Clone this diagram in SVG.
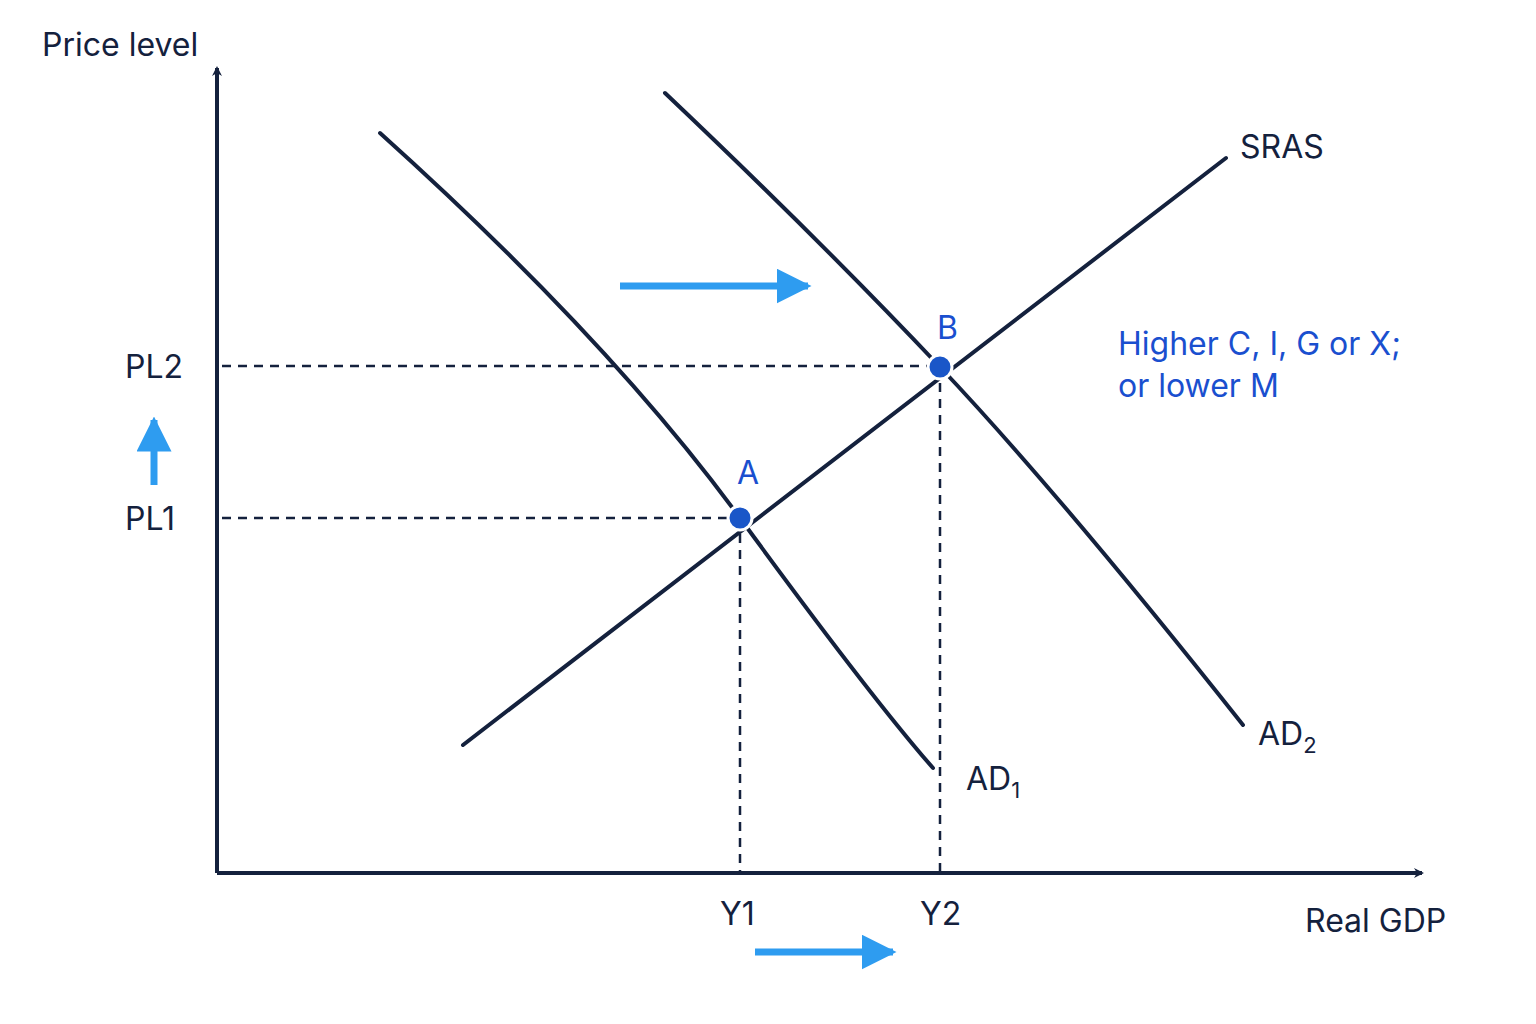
<svg xmlns="http://www.w3.org/2000/svg" width="1536" height="1024" viewBox="0 0 1536 1024">
<style>
.t{font-family:"Inter","Liberation Sans",sans-serif;fill:#14213d;font-size:32px}
.b{fill:#1a4fcf}
.c{fill:none;stroke:#14213d;stroke-width:4;stroke-linecap:round}
.d{stroke:#14213d;stroke-width:2.5;stroke-dasharray:9 7}
.s{stroke:#2e9cf0;stroke-width:7}
</style>
<defs>
<marker id="ax" markerWidth="10" markerHeight="10" refX="8" refY="5" orient="auto" markerUnits="userSpaceOnUse" viewBox="0 0 10 10"><path d="M0,0 L10,5 L0,10 L3,5 Z" fill="#14213d"/></marker>
<marker id="bl" viewBox="0 0 10 10" refX="9" refY="5" markerWidth="5" markerHeight="5" orient="auto"><path d="M0,0 L10,5 L0,10 Z" fill="#2e9cf0"/></marker>
</defs>
<rect width="1536" height="1024" fill="#fff"/>
<g id="axes">
<line x1="217" y1="873" x2="217" y2="68" stroke="#14213d" stroke-width="4" marker-end="url(#ax)"/>
<line x1="217" y1="873" x2="1422" y2="873" stroke="#14213d" stroke-width="4" marker-end="url(#ax)"/>
</g>
<g id="connectors">
<line class="d" x1="222" y1="366" x2="940" y2="366"/>
<line class="d" x1="222" y1="518" x2="740" y2="518"/>
<line class="d" x1="740" y1="518" x2="740" y2="873"/>
<line class="d" x1="940" y1="367" x2="940" y2="873"/>
<line class="s" x1="620" y1="286" x2="808" y2="286" marker-end="url(#bl)"/>
<line class="s" x1="755" y1="952" x2="893" y2="952" marker-end="url(#bl)"/>
<line class="s" x1="154" y1="485" x2="154" y2="420" marker-end="url(#bl)"/>
</g>
<g id="AD1"><path class="c" d="M380,133 Q610,340 740,518 T933,768"/><text class="t" x="966" y="790">AD<tspan font-size="22" dy="8">1</tspan></text></g>
<g id="AD2"><path class="c" d="M665,93 Q820,240 940,367 T1243,725"/><text class="t" x="1258" y="745">AD<tspan font-size="22" dy="8">2</tspan></text></g>
<g id="SRAS"><line class="c" x1="463" y1="745" x2="1226" y2="158"/><text class="t" x="1240" y="158">SRAS</text></g>
<g id="A"><circle cx="740" cy="518" r="12" fill="#1a56c8" stroke="#fff" stroke-width="3"/><text class="t b" x="737" y="484">A</text></g>
<g id="B"><circle cx="940" cy="367" r="12" fill="#1a56c8" stroke="#fff" stroke-width="3"/><text class="t b" x="937" y="339">B</text></g>
<g id="labels">
<text class="t" x="42" y="56">Price level</text>
<text class="t" x="125" y="378">PL2</text>
<text class="t" x="125" y="530">PL1</text>
<text class="t" x="720" y="925">Y1</text>
<text class="t" x="920" y="925">Y2</text>
<text class="t" x="1305" y="932">Real GDP</text>
<text class="t b" x="1118" y="355">Higher C, I, G or X;</text>
<text class="t b" x="1118" y="397">or lower M</text>
</g>
</svg>
